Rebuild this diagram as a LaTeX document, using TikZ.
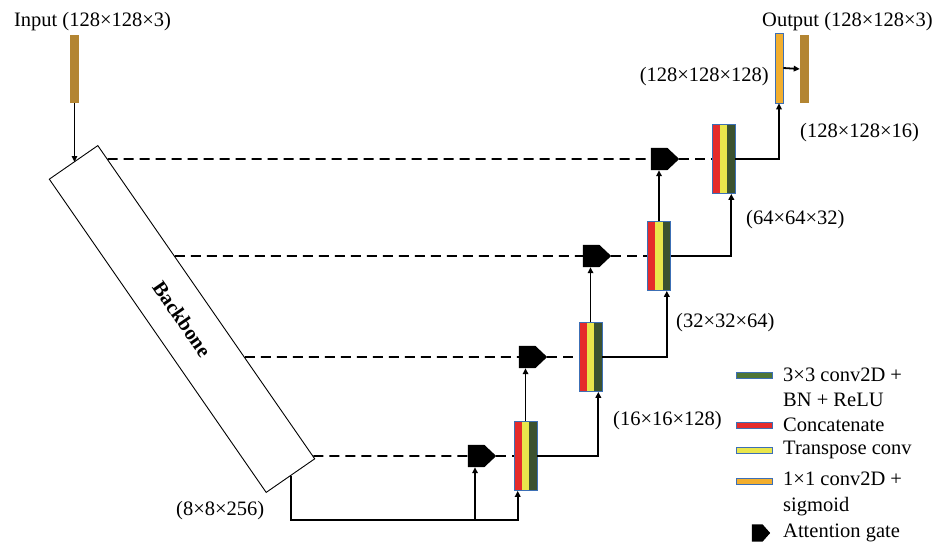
\documentclass[tikz,border=0pt]{standalone}
\usepackage{fontspec}
\setmainfont{Liberation Serif}
\usetikzlibrary{arrows.meta,calc}
\definecolor{cred}{HTML}{E52B2B}
\definecolor{cyel}{HTML}{E9E64C}
\definecolor{cgrn}{HTML}{3B5230}
\definecolor{clgrn}{HTML}{4E7536}
\definecolor{cblue}{HTML}{3C6FB5}
\definecolor{corange}{HTML}{F2AE2E}
\definecolor{cbrown}{HTML}{B38532}
\begin{document}
\begin{tikzpicture}[x=1pt,y=-1pt,
  font=\fontsize{20.5}{25}\selectfont,
  lbl/.style={inner sep=0pt},
  blk/.style={minimum width=23pt, minimum height=69pt, inner sep=0pt, draw=cblue, line width=0.6pt,
    path picture={
      \fill[cred] (path picture bounding box.south west) rectangle ($(path picture bounding box.north west)!0.333!(path picture bounding box.north east)$);
      \fill[cyel] ($(path picture bounding box.south west)!0.333!(path picture bounding box.south east)$) rectangle ($(path picture bounding box.north west)!0.667!(path picture bounding box.north east)$);
      \fill[cgrn] ($(path picture bounding box.south west)!0.667!(path picture bounding box.south east)$) rectangle (path picture bounding box.north east);
    }},
  gate/.style={rectangle, minimum width=28pt, minimum height=22pt, inner sep=0pt,
    append after command={
      \pgfextra{\fill[black] (\tikzlastnode.north west) -- ($(\tikzlastnode.north west)!0.58!(\tikzlastnode.north east)$) -- (\tikzlastnode.east) -- ($(\tikzlastnode.south west)!0.58!(\tikzlastnode.south east)$) -- (\tikzlastnode.south west) -- cycle;}
    }},
  arr/.style={line width=1.8pt, -{Triangle[length=6pt,width=5.5pt]}},
  dsh/.style={line width=1.8pt, dash pattern=on 10pt off 6pt},
  swatch/.style={minimum width=36pt, minimum height=6pt, inner sep=0pt, draw=cblue, line width=0.6pt}
]
\useasboundingbox (0,0) rectangle (936,545);

% input / output bars
\node[inner sep=0pt, fill=cbrown, minimum width=9pt, minimum height=68pt] (IN) at (74.5,69) {};
\node[inner sep=0pt, fill=corange, draw=cblue, line width=0.6pt, minimum width=8pt, minimum height=70pt] (OB) at (779,68) {};
\node[inner sep=0pt, fill=cbrown, minimum width=9pt, minimum height=68pt] (BR) at (804.5,69) {};

% backbone
\node[draw, line width=0.9pt, rotate=-55.3, minimum width=381pt, minimum height=59pt, inner sep=0pt,
      font=\fontsize{20.5}{25}\selectfont\bfseries] (BB) at (182,319) {Backbone};
\coordinate (bbA) at (BB.north west);
\coordinate (bbB) at (BB.north east);

% decoder blocks
\node[blk] (B1) at (723.5,159) {};
\node[blk] (B2) at (659,256) {};
\node[blk] (B3) at (590.5,357) {};
\node[blk] (B4) at (525.5,456) {};

% attention gates
\node[gate] (G1) at (665,159) {};
\node[gate] (G2) at (597,256) {};
\node[gate] (G3) at (533,357) {};
\node[gate] (G4) at (482,456) {};

% skip connections
\draw[dsh] (intersection of bbA--bbB and G1.west--G1.east) -- (G1.west);
\draw[dsh] (G1.east) -- (B1.west);
\draw[dsh] (intersection of bbA--bbB and G2.west--G2.east) -- (G2.west);
\draw[dsh] (G2.east) -- (B2.west);
\draw[dsh] (intersection of bbA--bbB and G3.west--G3.east) -- (G3.west);
\draw[dsh] (G3.east) -- (B3.west);
\draw[dsh] (intersection of bbA--bbB and G4.west--G4.east) -- (G4.west);
\draw[dsh] (G4.east) -- (B4.west);

% input arrow
\draw[arr] (IN.south) -- (IN.south |- BB.west);

% bottleneck path
\coordinate (J) at (475,520);
\draw[arr] (BB.east) |- (J) -| ($(B4.south west)+(4,0)$);
\draw[arr] (J) -- (J |- G4.south);

% gating signals
\draw[arr] (B4.north) -- (B4.north |- G3.south);
\draw[arr] (B3.north) -- (B3.north |- G2.south);
\draw[arr] (B2.north) -- (B2.north |- G1.south);

% upsampling path
\draw[arr] (B4.east) -| ($(B3.south east)+(-4,0)$);
\draw[arr] (B3.east) -| ($(B2.south east)+(-4,0)$);
\draw[arr] (B2.east) -| ($(B1.south east)+(-4,0)$);
\draw[arr] (B1.east) -| (OB.south);
\draw[arr] (OB.east) -- (BR.west);

% labels
\node[lbl] (tin) at (92.5,22) {Input (128×128×3)};
\node[lbl] (tout) at (847.5,22) {Output (128×128×3)};
\node[lbl, anchor=east] (t128) at (769,77) {(128×128×128)};
\node[lbl, anchor=west] (t16) at (800,133) {(128×128×16)};
\node[lbl, anchor=west] (t64) at (746,220) {(64×64×32)};
\node[lbl, anchor=west] (t32) at (676,323) {(32×32×64)};
\node[lbl, anchor=west] (t16b) at (613,421) {(16×16×128)};
\node[lbl, anchor=west] (t8) at (176,511) {(8×8×256)};

% legend
\node[swatch, fill=clgrn] (s1) at (754,375) {};
\node[lbl, anchor=west, align=left] (l1) at (783,387.5) {3×3 conv2D +\\BN + ReLU};
\node[swatch, fill=cred] (s2) at (754,425) {};
\node[lbl, anchor=west] (l2) at (783,425) {Concatenate};
\node[swatch, fill=cyel] (s3) at (754,450) {};
\node[lbl, anchor=west] (l3) at (783,450) {Transpose conv};
\node[swatch, fill=corange] (s4) at (754,481) {};
\node[lbl, anchor=west, align=left, font=\fontsize{20.5}{26}\selectfont] (l4) at (783,494) {1×1 conv2D +\\sigmoid};
\node[gate, minimum width=18pt, minimum height=17pt] (s5) at (761,533) {};
\node[lbl, anchor=west] (l5) at (783,533) {Attention gate};
\end{tikzpicture}
\end{document}
